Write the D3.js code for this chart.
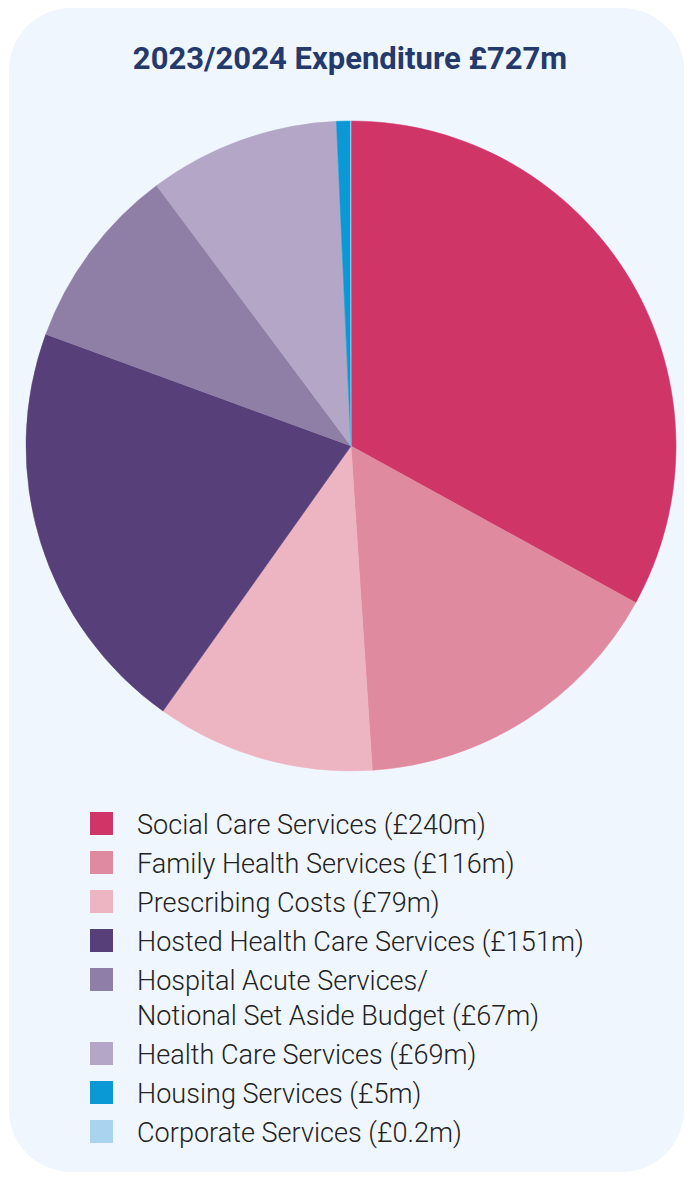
<!DOCTYPE html>
<html>
<head>
<meta charset="utf-8">
<script src="https://cdn.jsdelivr.net/npm/d3@7"></script>
<style>
  html, body { margin: 0; padding: 0; background: #ffffff; }
  svg { display: block; }
</style>
</head>
<body>
<svg id="chart" width="685" height="1180"></svg>
<script>
// Expenditure by service area, £m
const categories = [
  "Social Care Services",
  "Family Health Services",
  "Prescribing Costs",
  "Hosted Health Care Services",
  "Hospital Acute Services/\nNotional Set Aside Budget",
  "Health Care Services",
  "Housing Services",
  "Corporate Services"
];
const values = [240, 116, 79, 151, 67, 69, 5, 0.2];
const valueLabels = ["£240m", "£116m", "£79m", "£151m", "£67m", "£69m", "£5m", "£0.2m"];
const colours = ["#cf3567", "#e08a9f", "#edb5c1", "#573f79", "#8f7fa7", "#b3a6c6", "#0a99d4", "#a9d3ee"];
const title = "2023/2024 Expenditure £727m";

const svg = d3.select("#chart");

// Panel background
svg.append("rect")
  .attr("x", 9).attr("y", 8)
  .attr("width", 675).attr("height", 1164)
  .attr("rx", 62).attr("ry", 62)
  .attr("fill", "#f0f6fd");

// Title
svg.append("text")
  .attr("transform", "translate(350,69) scale(0.97,1)")
  .attr("text-anchor", "middle")
  .attr("font-family", "Roboto, 'Noto Sans', sans-serif")
  .attr("font-weight", 700)
  .attr("font-size", 32)
  .attr("fill", "#253a6c")
  .text(title);

// Pie
const cx = 351, cy = 446, R = 325;
const data = categories.map((c, i) => ({ name: c, value: values[i], label: valueLabels[i] }));
const pie = d3.pie().value(d => d.value).sort(null).startAngle(0).endAngle(2 * Math.PI);
const arc = d3.arc().innerRadius(0).outerRadius(R);
const colour = d3.scaleOrdinal().domain(categories).range(colours);

svg.append("g")
  .attr("transform", `translate(${cx},${cy})`)
  .selectAll("path")
  .data(pie(data))
  .join("path")
  .attr("d", arc)
  .attr("fill", d => colour(d.data.name))
  .attr("stroke", d => colour(d.data.name))
  .attr("stroke-width", 0.5);

// Legend
const legend = svg.append("g").attr("transform", "translate(90,812)");
const rowStep = 39, wrapStep = 35;
let extra = 0;
data.forEach((d, i) => {
  const lines = d.name.split("\n");
  lines[lines.length - 1] += ` (${d.label})`;
  const y = i * rowStep + extra;
  legend.append("rect")
    .attr("x", 0).attr("y", y)
    .attr("width", 23).attr("height", 23)
    .attr("fill", colour(d.name));
  lines.forEach((ln, j) => {
    legend.append("text")
      .attr("transform", `translate(47,${y + 21.5 + j * wrapStep}) scale(0.985,1)`)
      .attr("font-family", "Roboto, 'Noto Sans', sans-serif")
      .attr("font-weight", 300)
      .attr("font-size", 27.5)
      .attr("fill", "#222222")
      .text(ln);
  });
  extra += (lines.length - 1) * wrapStep;
});
</script>
</body>
</html>
